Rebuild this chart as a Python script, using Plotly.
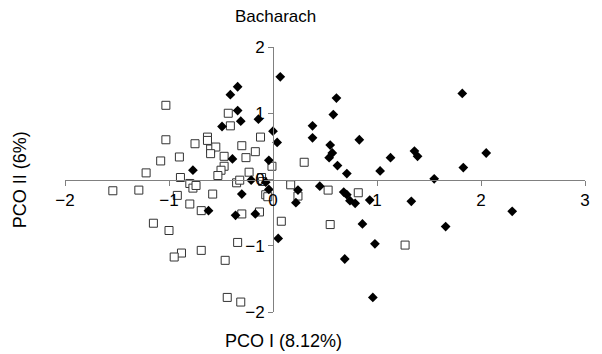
import plotly.graph_objects as go

# Open squares (group 1)
sq_x = [-1.03, -0.43, -0.41, -1.03, -0.75, -0.63, -0.63, -0.60, -0.55, -0.60,
        -0.30, -0.12, -0.17, -0.26, -0.47, -0.90, -1.08, -0.47, -0.50, -0.53,
        -1.22, -0.89, -0.01, 0.30, -0.23, -0.35, -0.32, -0.11, -0.10, 0.17,
        -1.54, -1.29, -0.80, -0.77, -0.74, -0.92, -0.58, -0.80, -0.69, -0.07,
        -0.05, -0.30, -0.13, 0.08, -1.15, -1.00, -0.34, -0.69, -0.88, -0.95,
        -0.46, -0.44, -0.31, 0.24, 0.53, 0.82, 0.55, 1.27]
sq_y = [1.12, 1.00, 0.81, 0.60, 0.54, 0.64, 0.59, 0.46, 0.49, 0.39,
        0.51, 0.64, 0.42, 0.33, 0.35, 0.34, 0.28, 0.20, 0.14, 0.06,
        0.10, 0.03, 0.20, 0.26, 0.11, -0.05, -0.01, 0.03, -0.03, -0.08,
        -0.17, -0.16, -0.06, -0.13, -0.09, -0.24, -0.22, -0.37, -0.47, -0.23,
        -0.26, -0.52, -0.49, -0.63, -0.66, -0.77, -0.95, -1.07, -1.11, -1.17,
        -1.22, -1.78, -1.85, -0.25, -0.16, -0.20, -0.68, -0.99]

# Filled diamonds (group 2)
dm_x = [0.07, -0.34, -0.41, -0.34, -0.31, -0.14, -0.49, 0.00, 0.04, 0.38,
        0.38, -0.39, -0.77, -0.04, -0.21, -0.07, -0.30, -0.62, -0.36, -0.17,
        0.05, 0.22, 0.24, -0.04, 0.61, 0.58, 0.55, 0.57, 0.54, 0.62,
        0.71, 0.83, 1.03, 1.13, 1.36, 1.39, 1.55, 1.82, 1.83, 2.05,
        0.45, 0.68, 0.71, 0.74, 0.79, 0.93, 1.33, 2.30, 0.86, 1.66,
        0.98, 0.69, 0.96]
dm_y = [1.55, 1.40, 1.28, 1.04, 0.88, 0.91, 0.80, 0.73, 0.56, 0.81,
        0.63, 0.31, 0.14, 0.29, -0.01, -0.04, -0.22, -0.47, -0.54, -0.52,
        -0.89, -0.35, -0.16, -0.15, 1.23, 0.98, 0.52, 0.40, 0.33, 0.21,
        0.09, 0.60, 0.13, 0.33, 0.43, 0.35, 0.01, 1.30, 0.18, 0.40,
        -0.10, -0.19, -0.23, -0.32, -0.36, -0.31, -0.33, -0.48, -0.67, -0.71,
        -0.97, -1.20, -1.78]

x_ticks = [-2, -1, 0, 1, 2, 3]
y_ticks = [-2, -1, 0, 1, 2]

title_text = "Bacharach"
x_title = "PCO I (8.12%)"
y_title = "PCO II (6%)"

FONT = "Liberation Sans, Arial, sans-serif"

fig = go.Figure()
fig.add_trace(go.Scatter(
    x=sq_x, y=sq_y, mode="markers",
    marker=dict(symbol="square", size=8, color="white",
                line=dict(color="#333333", width=1)),
    showlegend=False, cliponaxis=False))
fig.add_trace(go.Scatter(
    x=dm_x, y=dm_y, mode="markers",
    marker=dict(symbol="diamond", size=7.5, color="black",
                line=dict(color="black", width=0)),
    showlegend=False, cliponaxis=False))

axis_common = dict(showgrid=False, zeroline=False, showline=True,
                   linecolor="#808080", linewidth=1, ticks="outside",
                   ticklen=5, tickcolor="#808080", tickwidth=1,
                   tickfont=dict(family=FONT, size=17, color="black"),
                   anchor="free")

fig.update_layout(
    width=602, height=354,
    margin=dict(l=65, r=15, t=47, b=42),
    paper_bgcolor="white", plot_bgcolor="white",
    font=dict(family=FONT, color="black"),
    xaxis=dict(range=[-2, 3], tickvals=x_ticks, position=0.5, **axis_common),
    yaxis=dict(range=[-2, 2], tickvals=y_ticks, position=0.4, **axis_common),
    annotations=[
        dict(text=title_text, x=0.405, y=1.115, xref="paper", yref="paper",
             showarrow=False, xanchor="center", yanchor="middle",
             font=dict(size=17, family=FONT, color="black")),
        dict(text=x_title, x=0.42, y=-0.11, xref="paper", yref="paper",
             showarrow=False, xanchor="center", yanchor="middle",
             font=dict(size=18, family=FONT, color="black")),
        dict(text=y_title, x=-0.087, y=0.5, xref="paper", yref="paper",
             showarrow=False, textangle=-90, xanchor="center", yanchor="middle",
             font=dict(size=18, family=FONT, color="black")),
    ],
)

fig.write_html("out.html",
               config={"displayModeBar": False},
               post_script="document.body.style.margin='0';document.body.style.overflow='hidden';")
